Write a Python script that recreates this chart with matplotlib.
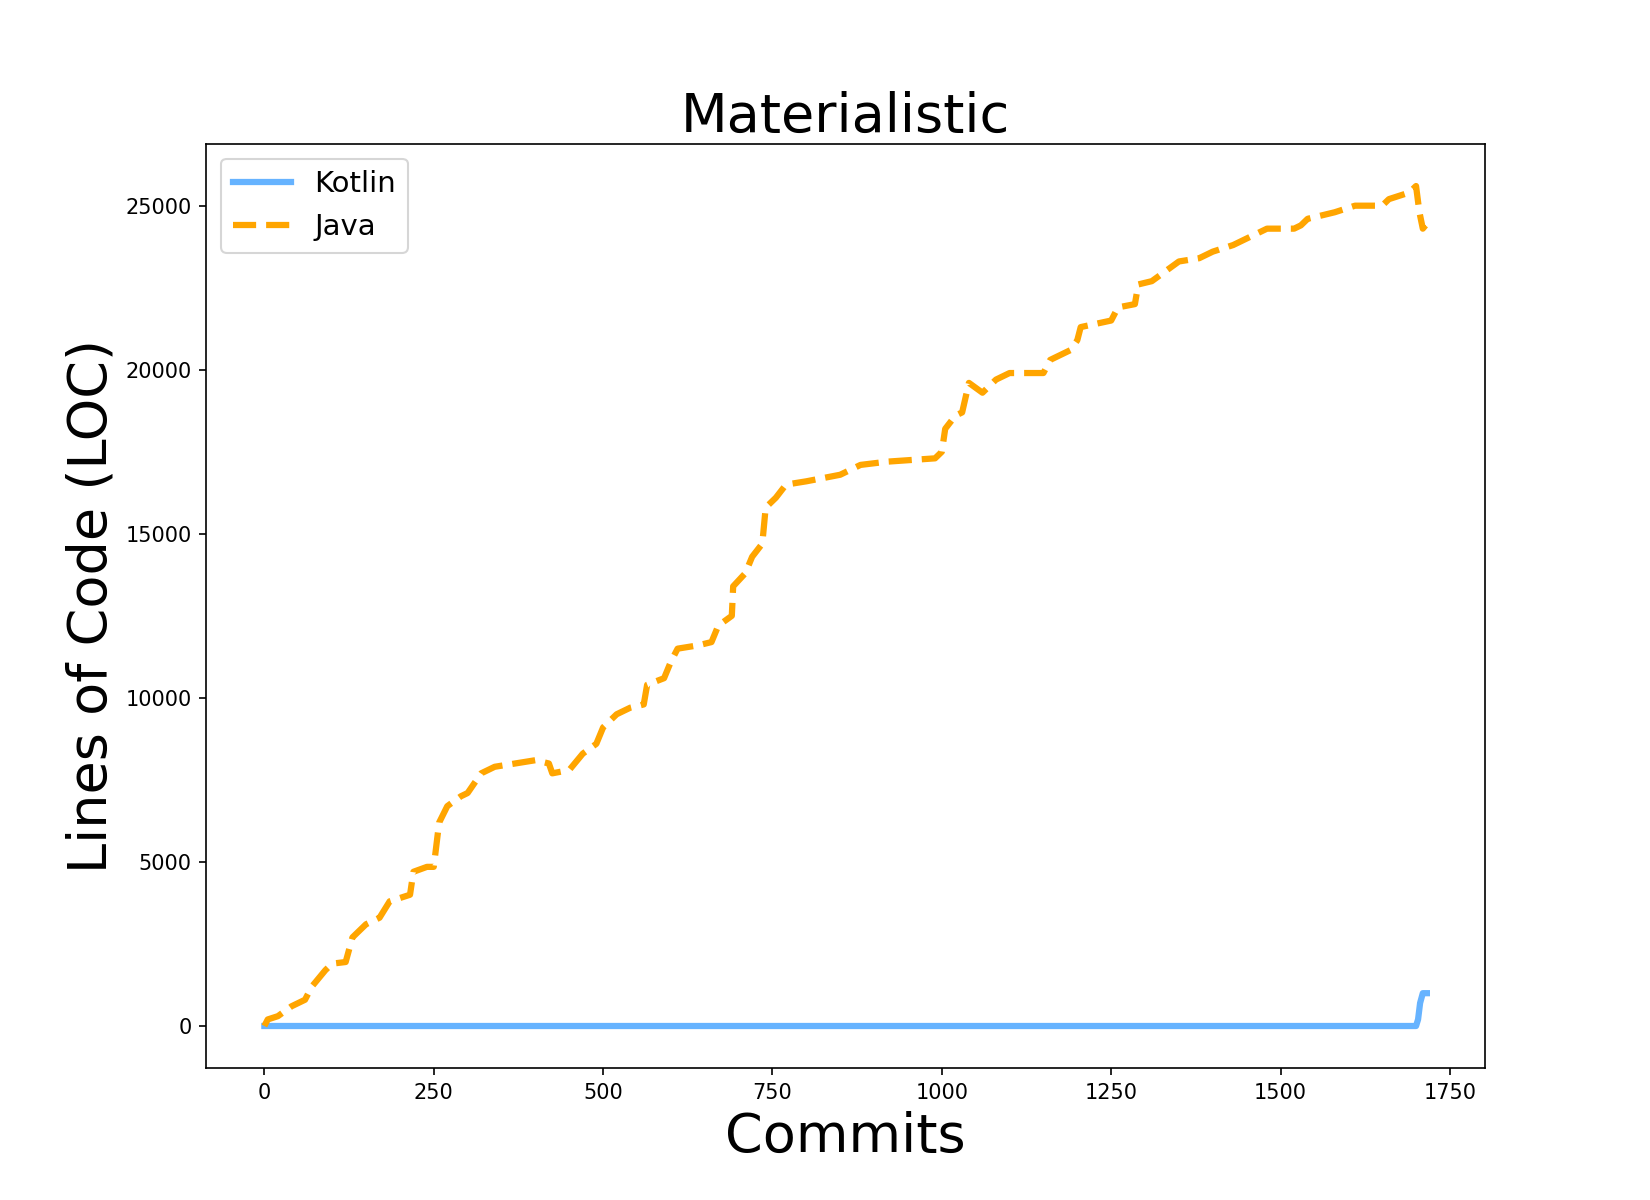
import matplotlib
matplotlib.use("Agg")
import matplotlib.pyplot as plt

java_commits = [0, 5, 20, 40, 60, 70, 90, 100, 120, 130, 150, 170, 185, 200, 215, 220, 240, 250,
                258, 270, 290, 300, 320, 340, 370, 400, 420, 425, 450, 470, 490, 500, 520, 540,
                560, 565, 590, 600, 610, 640, 660, 670, 690, 692, 710, 720, 735, 740, 755, 770,
                800, 850, 880, 920, 990, 1000, 1005, 1020, 1030, 1040, 1060, 1080, 1100, 1150,
                1160, 1190, 1200, 1205, 1250, 1260, 1285, 1290, 1310, 1330, 1350, 1380, 1400,
                1430, 1450, 1480, 1520, 1530, 1540, 1580, 1610, 1650, 1660, 1690, 1700, 1705,
                1710, 1714]
java_loc = [0, 200, 300, 600, 800, 1200, 1700, 1900, 1950, 2700, 3100, 3300, 3800, 3900, 4000,
            4700, 4850, 4850, 6200, 6700, 7000, 7100, 7700, 7900, 8000, 8100, 8000, 7700, 7800,
            8300, 8600, 9100, 9500, 9700, 9800, 10400, 10600, 11100, 11500, 11600, 11700, 12200,
            12500, 13400, 13800, 14300, 14700, 15800, 16100, 16500, 16600, 16800, 17100, 17200,
            17300, 17500, 18200, 18600, 18700, 19600, 19300, 19700, 19900, 19900, 20300, 20600,
            20900, 21300, 21500, 21900, 22000, 22600, 22700, 23000, 23300, 23400, 23600, 23800,
            24000, 24300, 24300, 24400, 24600, 24800, 25000, 25000, 25200, 25400, 25600, 24800,
            24300, 24400]

kotlin_commits = [0, 1700, 1703, 1706, 1710, 1716]
kotlin_loc = [0, 0, 200, 700, 1000, 1000]

fig, ax = plt.subplots(figsize=(11, 8), dpi=150)
ax.plot(kotlin_commits, kotlin_loc, color="#66b3ff", linewidth=3, label="Kotlin")
ax.plot(java_commits, java_loc, color="orange", linestyle="--", linewidth=3, label="Java")
ax.set_title("Materialistic", fontsize=26)
ax.set_xlabel("Commits", fontsize=26)
ax.set_ylabel("Lines of Code (LOC)", fontsize=26)
ax.set_xticks([0, 250, 500, 750, 1000, 1250, 1500, 1750])
ax.legend(loc="upper left", fontsize=14)
plt.savefig("out.png", dpi=150)
